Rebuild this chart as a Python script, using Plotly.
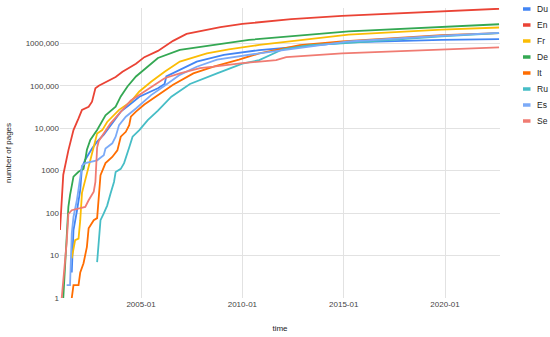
import plotly.graph_objects as go

# ---------------- data ----------------
series_names = ["Du", "En", "Fr", "De", "It", "Ru", "Es", "Se"]
series_colors = ["#4285F4", "#EA4335", "#FBBC04", "#34A853",
                 "#FF6D01", "#46BDC6", "#7BAAF7", "#F07B72"]

du_dates = ["2001-08", "2001-09", "2001-11", "2002-01", "2002-02", "2002-04", "2002-08",
            "2002-11", "2003-03", "2003-07", "2004-01", "2004-06", "2004-12", "2005-11",
            "2006-03", "2006-04", "2006-12", "2007-10", "2009-02", "2010-11", "2015-04",
            "2019-11", "2022-09"]
du_values = [4, 40, 110, 350, 1200, 1800, 3300, 4800, 7000, 11800, 24500, 35000, 55000,
             87000, 110000, 165000, 235000, 370000, 530000, 690000, 1050000, 1200000, 1250000]

en_dates = ["2001-01", "2001-03", "2001-06", "2001-09", "2001-12", "2002-02", "2002-06",
            "2002-08", "2002-10", "2002-12", "2003-10", "2004-02", "2004-10", "2005-03",
            "2005-11", "2006-08", "2007-04", "2007-12", "2008-12", "2010-01", "2012-06",
            "2014-12", "2017-06", "2019-11", "2022-09"]
en_values = [40, 800, 3000, 9000, 17000, 27000, 32000, 42000, 87000, 100000, 160000,
             214000, 330000, 470000, 660000, 1140000, 1660000, 1900000, 2400000, 2860000,
             3700000, 4400000, 5000000, 5600000, 6500000]

fr_dates = ["2001-08", "2001-10", "2001-12", "2002-01", "2002-02", "2002-04", "2002-07",
            "2002-09", "2002-11", "2003-02", "2003-05", "2003-12", "2004-07", "2004-12",
            "2005-07", "2006-03", "2006-12", "2008-04", "2009-05", "2010-11", "2015-04",
            "2019-11", "2022-09"]
fr_values = [8.6, 23, 25, 68, 300, 600, 1800, 3700, 7500, 9000, 14000, 27000, 42000,
             73000, 124000, 214000, 370000, 580000, 720000, 910000, 1600000, 2100000, 2350000]

de_dates = ["2001-03", "2001-06", "2001-07", "2001-09", "2001-12", "2002-03", "2002-04",
            "2002-05", "2002-07", "2002-11", "2003-04", "2003-10", "2004-01", "2004-05",
            "2004-10", "2005-03", "2005-07", "2005-11", "2006-12", "2008-08", "2010-05",
            "2015-04", "2019-11", "2022-09"]
de_values = [1, 140, 265, 720, 940, 1100, 1800, 3100, 5300, 9100, 20000, 32000, 56000,
             96000, 165000, 240000, 330000, 450000, 700000, 910000, 1200000, 1900000,
             2450000, 2800000]

it_dates = ["2001-08", "2001-09", "2001-12", "2002-01", "2002-03", "2002-05", "2002-06",
            "2002-09", "2002-11", "2002-12", "2003-01", "2003-04", "2003-08", "2003-11",
            "2004-01", "2004-04", "2004-06", "2004-07", "2004-10", "2005-03", "2005-11",
            "2006-08", "2007-08", "2008-08", "2009-11", "2010-11", "2012-11", "2014-12",
            "2019-11", "2022-09"]
it_values = [1, 2, 2, 4, 6.6, 16, 44, 68, 76, 240, 780, 1500, 2100, 3000, 6300, 8200,
             11800, 18600, 24500, 36000, 60000, 105000, 195000, 280000, 410000, 580000,
             900000, 1100000, 1550000, 1730000]

ru_dates = ["2002-11", "2002-12", "2003-01", "2003-03", "2003-05", "2003-07", "2003-09",
            "2003-10", "2004-01", "2004-03", "2004-04", "2004-06", "2004-08", "2004-12",
            "2005-05", "2005-11", "2006-07", "2007-06", "2008-10", "2010-01", "2010-11",
            "2012-01", "2013-05", "2014-12", "2019-11", "2022-09"]
ru_values = [7, 23, 68, 98, 150, 290, 540, 930, 1100, 1500, 2100, 3500, 6300, 9000,
             15500, 26000, 55000, 110000, 195000, 330000, 400000, 720000, 900000,
             1000000, 1450000, 1730000]

es_dates = ["2001-05", "2001-07", "2001-08", "2001-09", "2001-11", "2002-01", "2002-02",
            "2002-04", "2002-07", "2002-11", "2003-03", "2003-04", "2003-08", "2003-10",
            "2003-12", "2004-04", "2004-10", "2005-07", "2006-03", "2006-12", "2007-10",
            "2008-10", "2010-11", "2015-04", "2019-11", "2022-09"]
es_values = [2, 2, 33, 81, 200, 720, 1300, 1500, 1600, 1750, 2300, 3300, 4400, 6300,
             11800, 18600, 29000, 60000, 100000, 180000, 280000, 410000, 580000, 1100000,
             1500000, 1750000]

se_dates = ["2001-02", "2001-05", "2001-06", "2001-08", "2002-01", "2002-04", "2002-06",
            "2002-09", "2002-10", "2002-11", "2002-12", "2003-07", "2004-07", "2005-07",
            "2006-03", "2006-12", "2007-12", "2008-08", "2010-01", "2011-09", "2012-03",
            "2014-12", "2019-11", "2022-09"]
se_values = [1, 20, 95, 117, 130, 140, 200, 320, 540, 3500, 5000, 13000, 45000, 95000,
             150000, 195000, 260000, 280000, 340000, 400000, 470000, 580000, 720000, 800000]

all_dates = [du_dates, en_dates, fr_dates, de_dates, it_dates, ru_dates, es_dates, se_dates]
all_values = [du_values, en_values, fr_values, de_values, it_values, ru_values, es_values, se_values]

y_tick_vals = [1, 10, 100, 1000, 10000, 100000, 1000000]
y_tick_text = ["1", "10", "100", "1000", "10,000", "100,000", "1000,000"]
x_tick_vals = ["2005-01-01", "2010-01-01", "2015-01-01", "2020-01-01"]
x_tick_text = ["2005-01", "2010-01", "2015-01", "2020-01"]

# ---------------- figure ----------------
FONT = "Liberation Sans, Arial, sans-serif"
fig = go.Figure()
for name, color, d, v in zip(series_names, series_colors, all_dates, all_values):
    fig.add_trace(go.Scatter(x=d, y=v, mode="lines", name=name,
                             line=dict(color=color, width=1.8), showlegend=False))

fig.update_layout(
    width=550, height=337,
    margin=dict(l=60, r=50, t=8, b=39),
    paper_bgcolor="white", plot_bgcolor="white",
    font=dict(family=FONT, size=8, color="#444444"),
)
fig.update_xaxes(
    range=["2001-01-01", "2022-09-18"],
    tickvals=x_tick_vals, ticktext=x_tick_text,
    showgrid=True, gridcolor="#e2e2e2", gridwidth=1,
    showline=False, zeroline=False, ticks="",
    title=dict(text="time", font=dict(size=8, color="#222222"), standoff=17),
    automargin=False,
)
fig.update_yaxes(
    type="log", range=[0, 6.83],
    tickvals=y_tick_vals, ticktext=y_tick_text,
    showgrid=True, gridcolor="#e2e2e2", gridwidth=1,
    showline=False, zeroline=False, ticks="",
    title=dict(text="number of pages", font=dict(size=8, color="#222222"), standoff=12),
    automargin=False,
)

# custom legend (short thick swatches like the reference)
plot_w, plot_h = 440.0, 290.0
for i, (name, color) in enumerate(zip(series_names, series_colors)):
    ypix = 9 + 16 * i
    yp = (290 - (ypix - 8)) / plot_h
    fig.add_shape(type="line", xref="paper", yref="paper",
                  x0=(523 - 60) / plot_w, x1=(530.5 - 60) / plot_w, y0=yp, y1=yp,
                  line=dict(color=color, width=3.5))
    fig.add_annotation(xref="paper", yref="paper", x=(535 - 60) / plot_w, y=yp,
                       text=name, showarrow=False, xanchor="left", yanchor="middle",
                       font=dict(family=FONT, size=8.5, color="#222222"))

fig.write_html("out.html", config={"displayModeBar": False},
               post_script="document.body.style.margin='0';document.body.style.padding='0';")
